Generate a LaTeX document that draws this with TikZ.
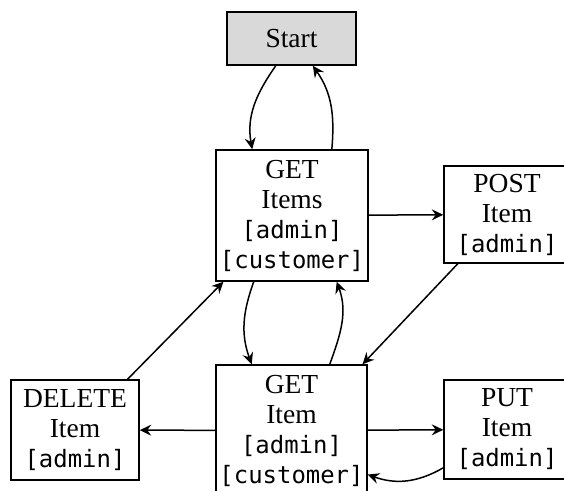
\documentclass[tikz,border=0pt]{standalone}
\usepackage{fontspec}
\setmainfont{Liberation Serif}
\setmonofont{DejaVu Sans Mono}[Scale=0.87]
\usetikzlibrary{arrows.meta}

\begin{document}
\begin{tikzpicture}[x=0.4pt,y=0.4pt,
  res/.style={draw,line width=0.6pt,align=center,inner sep=0pt,font=\fontsize{11}{12}\selectfont},
  link/.style={-{Stealth[length=4.6pt,width=4.4pt,inset=1.6pt]},line width=0.6pt}]
\useasboundingbox (0,0) rectangle (564,491);

% resources
\node[res,fill=black!15,minimum width=51.6pt,minimum height=21.2pt] (start) at (291.5,452.5) {Start};
\node[res,minimum width=60.8pt,minimum height=52.4pt] (getitems) at (292,275.5) {GET\\Items\\\texttt{[admin]}\\\texttt{[customer]}};
\node[res,minimum width=50.4pt,minimum height=38.8pt] (post) at (507,276.5) {POST\\Item\\\texttt{[admin]}};
\node[res,minimum width=60.4pt,minimum height=52.4pt] (getitem) at (291.5,60.5) {GET\\Item\\\texttt{[admin]}\\\texttt{[customer]}};
\node[res,minimum width=51.2pt,minimum height=40pt] (delete) at (75,61) {DELETE\\Item\\\texttt{[admin]}};
\node[res,minimum width=50.4pt,minimum height=39.6pt] (put) at (507,61.5) {PUT\\Item\\\texttt{[admin]}};

% transitions
\draw[link] (start.-120) to[out=-125,in=100] (getitems.121);
\draw[link] (getitems.59) to[out=85,in=-55] (start.-52);
\draw[link] (getitems) -- (post);
\draw[link] (post.-135) -- (getitem.43);
\draw[link] (getitems.-120) to[out=-110,in=110] (getitem.121);
\draw[link] (getitem.60) to[out=70,in=-70] (getitems.-56);
\draw[link] (delete.44) -- (getitems.-136);
\draw[link] (getitem) -- (delete);
\draw[link] (getitem) -- (put);
\draw[link] (put.-149) to[out=-150,in=-20] (getitem.-30);
\end{tikzpicture}
\end{document}
